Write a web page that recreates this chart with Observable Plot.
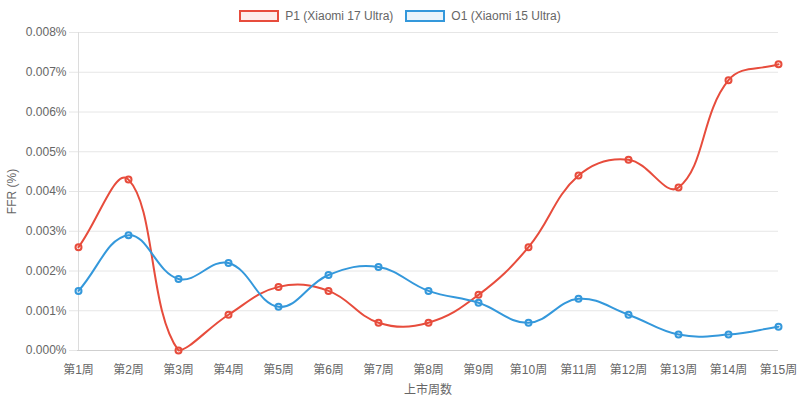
<!DOCTYPE html>
<html>
<head>
<meta charset="utf-8">
<script src="https://cdn.jsdelivr.net/npm/d3@7"></script>
<script src="https://cdn.jsdelivr.net/npm/@observablehq/plot@0.6"></script>
<style>
  html, body { margin: 0; padding: 0; background: #fff; }
  body { width: 800px; font-family: "Liberation Sans", Arial, "Noto Sans CJK SC", sans-serif; }
  #legend { height: 12px; padding-top: 10px; display: flex; justify-content: center; align-items: center; gap: 12px; font-size: 12px; color: #666; }
  .item { display: flex; align-items: center; gap: 6px; }
  .box { width: 36px; height: 8px; border: 2px solid; }
</style>
</head>
<body>
<div id="legend"></div>
<div id="chart"></div>
<script>
const weeks = ["第1周","第2周","第3周","第4周","第5周","第6周","第7周","第8周","第9周","第10周","第11周","第12周","第13周","第14周","第15周"];
const p1 = [0.0026,0.0043,0.0000,0.0009,0.0016,0.0015,0.0007,0.0007,0.0014,0.0026,0.0044,0.0048,0.0041,0.0068,0.0072];
const o1 = [0.0015,0.0029,0.0018,0.0022,0.0011,0.0019,0.0021,0.0015,0.0012,0.0007,0.0013,0.0009,0.0004,0.0004,0.0006];
const seriesNames = ["P1 (Xiaomi 17 Ultra)", "O1 (Xiaomi 15 Ultra)"];
const seriesColors = ["#e74c3c", "#3498db"];
const seriesFills = ["rgba(231,76,60,0.1)", "rgba(52,152,219,0.1)"];
const yTicks = [0,0.001,0.002,0.003,0.004,0.005,0.006,0.007,0.008];

const rows = [];
[p1, o1].forEach((vals, s) => vals.forEach((v, i) => rows.push({week: weeks[i], value: v, series: seriesNames[s]})));

// Chart.js-style spline (tension 0.4) with control points capped to the chart area
function makeCurve(bounds) {
  return function chartjsCurve(context) {
    let pts = [];
    const cap = (q) => {
      if (!bounds) return q;
      return [Math.min(Math.max(q[0], bounds.x0), bounds.x1), Math.min(Math.max(q[1], bounds.y0), bounds.y1)];
    };
    return {
      areaStart() {}, areaEnd() {},
      lineStart() { pts = []; },
      point(x, y) { pts.push([+x, +y]); },
      lineEnd() {
        const n = pts.length;
        if (!n) return;
        const t = 0.4;
        const cp = pts.map((p, i) => {
          const prev = pts[i - 1] || p, next = pts[i + 1] || p;
          const d01 = Math.hypot(p[0] - prev[0], p[1] - prev[1]);
          const d12 = Math.hypot(next[0] - p[0], next[1] - p[1]);
          let s01 = d01 / (d01 + d12), s12 = d12 / (d01 + d12);
          if (isNaN(s01)) s01 = 0;
          if (isNaN(s12)) s12 = 0;
          const fa = t * s01, fb = t * s12;
          return {
            prev: cap([p[0] - fa * (next[0] - prev[0]), p[1] - fa * (next[1] - prev[1])]),
            next: cap([p[0] + fb * (next[0] - prev[0]), p[1] + fb * (next[1] - prev[1])])
          };
        });
        context.moveTo(pts[0][0], pts[0][1]);
        for (let i = 1; i < n; i++) {
          context.bezierCurveTo(cp[i - 1].next[0], cp[i - 1].next[1], cp[i].prev[0], cp[i].prev[1], pts[i][0], pts[i][1]);
        }
      }
    };
  };
}

// Legend
const legend = document.getElementById("legend");
seriesNames.forEach((name, i) => {
  const item = document.createElement("div");
  item.className = "item";
  const box = document.createElement("span");
  box.className = "box";
  box.style.borderColor = seriesColors[i];
  box.style.background = seriesFills[i];
  const label = document.createElement("span");
  label.textContent = name;
  item.append(box, label);
  legend.append(item);
});

function draw(bounds) {
  return Plot.plot({
    width: 800,
    height: 379,
    marginTop: 10,
    marginBottom: 51,
    marginLeft: 77,
    marginRight: 22,
    style: { fontSize: "12px", fontFamily: "'Liberation Sans', Arial, 'Noto Sans CJK SC', sans-serif", color: "#666", background: "#fff" },
    x: { type: "point", domain: weeks, padding: 0 },
    y: { domain: [0, 0.008] },
    color: { domain: seriesNames, range: seriesColors },
    marks: [
      Plot.gridY(yTicks, { stroke: "#e6e6e6", strokeOpacity: 1 }),
      Plot.axisY(yTicks, { tickSize: 8, tickPadding: 3, stroke: "#e6e6e6", fill: "#666", tickFormat: d => d.toFixed(3) + "%", label: "FFR (%)", labelAnchor: "center", labelArrow: "none", labelOffset: 70 }),
      Plot.axisX({ tickSize: 0, tickPadding: 15, fill: "#666", label: "上市周数", labelAnchor: "center", labelArrow: "none", labelOffset: 43 }),
      Plot.ruleX([weeks[0]], { stroke: "#dcdcdc" }),
      Plot.ruleY([0], { stroke: "#cfcfcf" }),
      Plot.line(rows, { x: "week", y: "value", z: "series", stroke: "series", strokeWidth: 2, curve: makeCurve(bounds) }),
      Plot.dot(rows, { x: "week", y: "value", r: 3, stroke: "series", strokeWidth: 2, fill: d => d.series === seriesNames[0] ? seriesFills[0] : seriesFills[1] })
    ]
  });
}

// First pass to read the scales' pixel ranges, then draw with capped control points
const first = draw(null);
const xr = first.scale("x").range, yr = first.scale("y").range;
const bounds = { x0: Math.min(...xr), x1: Math.max(...xr), y0: Math.min(...yr), y1: Math.max(...yr) };
document.getElementById("chart").append(draw(bounds));
</script>
</body>
</html>
